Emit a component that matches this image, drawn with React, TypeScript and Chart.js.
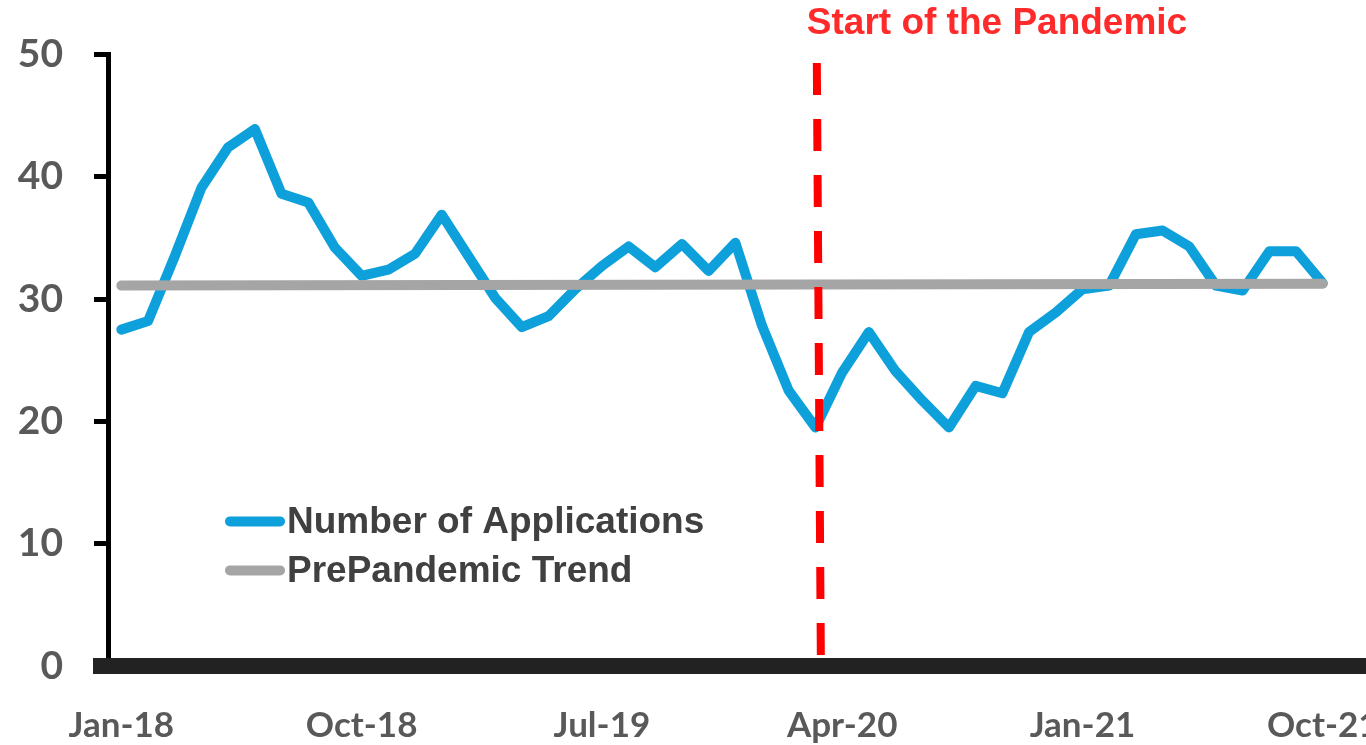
import React, { useEffect, useRef } from "react";
import { Chart, registerables } from "chart.js";

Chart.register(...registerables);

// ---- Data ----
const monthLabels = [
  "Jan-18", "Feb-18", "Mar-18", "Apr-18", "May-18", "Jun-18", "Jul-18", "Aug-18", "Sep-18", "Oct-18", "Nov-18", "Dec-18",
  "Jan-19", "Feb-19", "Mar-19", "Apr-19", "May-19", "Jun-19", "Jul-19", "Aug-19", "Sep-19", "Oct-19", "Nov-19", "Dec-19",
  "Jan-20", "Feb-20", "Mar-20", "Apr-20", "May-20", "Jun-20", "Jul-20", "Aug-20", "Sep-20", "Oct-20", "Nov-20", "Dec-20",
  "Jan-21", "Feb-21", "Mar-21", "Apr-21", "May-21", "Jun-21", "Jul-21", "Aug-21", "Sep-21", "Oct-21",
];

const applications = [
  27.5, 28.2, 33.5, 39.1, 42.4, 43.9, 38.6, 37.9, 34.2, 31.9, 32.4, 33.7,
  36.9, 33.5, 30.1, 27.7, 28.6, 30.8, 32.7, 34.3, 32.6, 34.5, 32.3, 34.6,
  27.8, 22.5, 19.5, 24.0, 27.3, 24.1, 21.7, 19.5, 22.9, 22.3, 27.3, 28.9,
  30.8, 31.1, 35.3, 35.6, 34.3, 31.1, 30.7, 33.9, 33.9, 31.3,
];

// PrePandemic trend: start (Jan-18) and end (Oct-21) values
const trendMonths = [0, 45];
const trendValues = [31.1, 31.25];

// Start of pandemic marker (Mar-20), drawn from top to bottom
const pandemicMonths = [26.05, 26.2];
const pandemicValues = [49.3, 0.9];
const pandemicLabel = "Start of the Pandemic";

const xTickMonths = [0, 9, 18, 27, 36, 45];
const yTickValues = [0, 10, 20, 30, 40, 50];

const seriesNames = ["Number of Applications", "PrePandemic Trend"];

const BLUE = "#0EA0DA";
const GRAY = "#A5A5A5";
const RED = "#FF0000";

export default function App() {
  const canvasRef = useRef<HTMLCanvasElement | null>(null);

  useEffect(() => {
    if (!canvasRef.current) return;

    const overlay = {
      id: "overlay",
      afterDraw(chart: any) {
        const { ctx, chartArea, scales } = chart;
        const xs = scales.x;
        ctx.save();
        // thick x-axis bar
        ctx.fillStyle = "#222222";
        ctx.fillRect(chartArea.left - 15, chartArea.bottom - 8, chart.width - chartArea.left + 15, 16);

        // title near pandemic line
        ctx.font = 'bold 37px "Liberation Sans", Arial, sans-serif';
        ctx.fillStyle = "#FF2A2A";
        ctx.textAlign = "left";
        ctx.textBaseline = "middle";
        ctx.fillText(pandemicLabel, xs.getPixelForValue(pandemicMonths[0]) - 10, 24);

        // legend
        const colors = [BLUE, GRAY];
        const lx = chartArea.left + 122;
        const ly = chartArea.top + 467;
        seriesNames.forEach((name, i) => {
          const y = ly + i * 49;
          ctx.strokeStyle = colors[i];
          ctx.lineWidth = 10;
          ctx.lineCap = "round";
          ctx.beginPath();
          ctx.moveTo(lx, y);
          ctx.lineTo(lx + 50, y);
          ctx.stroke();
          ctx.fillStyle = "#404040";
          ctx.font = 'bold 37px "Liberation Sans", Arial, sans-serif';
          ctx.textAlign = "left";
          ctx.textBaseline = "middle";
          ctx.fillText(name, lx + 57, y + 1);
        });
        ctx.restore();
      },
    };

    const chart = new Chart(canvasRef.current, {
      type: "line",
      data: {
        datasets: [
          {
            label: "pandemic",
            data: pandemicMonths.map((m, i) => ({ x: m, y: pandemicValues[i] })),
            borderColor: RED,
            borderWidth: 8,
            borderDash: [32, 24],
            borderCapStyle: "butt",
            pointRadius: 0,
            fill: false,
          },
          {
            label: seriesNames[1],
            data: trendMonths.map((m, i) => ({ x: m, y: trendValues[i] })),
            borderColor: GRAY,
            borderWidth: 10,
            borderCapStyle: "round",
            pointRadius: 0,
            fill: false,
          },
          {
            label: seriesNames[0],
            data: applications.map((v, i) => ({ x: i, y: v })),
            borderColor: BLUE,
            borderWidth: 10,
            borderCapStyle: "round",
            borderJoinStyle: "round",
            tension: 0,
            pointRadius: 0,
            fill: false,
          },
        ],
      },
      options: {
        animation: false,
        responsive: true,
        maintainAspectRatio: false,
        layout: { padding: { top: 53, left: 0, right: 0, bottom: 0 } },
        plugins: {
          legend: { display: false },
          tooltip: { enabled: false },
          title: { display: false },
        },
        scales: {
          x: {
            type: "linear",
            min: -0.5,
            max: 46.62,
            afterBuildTicks: (s: any) => {
              s.ticks = xTickMonths.map((v) => ({ value: v }));
            },
            afterFit: (s: any) => {
              s.height = 79;
              s.paddingLeft = 0;
              s.paddingRight = 0;
            },
            grid: { display: false },
            border: { display: false },
            ticks: {
              autoSkip: false,
              maxRotation: 0,
              padding: 31,
              color: "#595959",
              font: { family: "Lato", weight: "bold", size: 35 },
              callback: (v: any) => monthLabels[v as number] ?? "",
            },
          },
          y: {
            min: 0,
            max: 50,
            afterBuildTicks: (s: any) => {
              s.ticks = yTickValues.map((v) => ({ value: v }));
            },
            afterFit: (s: any) => {
              s.width = 108;
            },
            grid: {
              drawOnChartArea: false,
              drawTicks: true,
              tickLength: 14,
              lineWidth: 5,
              color: "#000000",
            },
            border: { display: true, width: 5, color: "#000000" },
            ticks: {
              padding: 31,
              color: "#595959",
              font: { family: "Lato", weight: "bold", size: 39 },
            },
          },
        },
      },
      plugins: [overlay],
    } as any);

    return () => chart.destroy();
  }, []);

  return (
    <div style={{ position: "absolute", left: 0, top: 0, width: 1366, height: 745, background: "#fff" }}>
      <canvas ref={canvasRef} />
    </div>
  );
}
